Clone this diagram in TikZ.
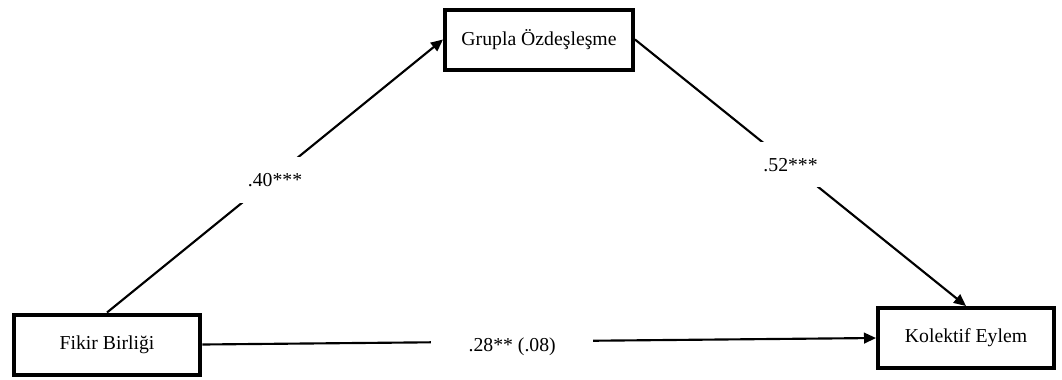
\documentclass[tikz,border=0pt]{standalone}
\usepackage{fontspec}
\setmainfont{Liberation Serif}
\usetikzlibrary{arrows.meta,positioning}

\begin{document}
\begin{tikzpicture}[x=0.75pt, y=-0.75pt,
    varbox/.style={draw, line width=3pt, minimum width=#1, minimum height=45pt,
                   font=\fontsize{14.8}{17}\selectfont},
    effect/.style={line width=1.6pt, -{Triangle[length=9pt,width=8pt]}},
    coef/.style={fill=white, inner xsep=10pt, inner ysep=12pt, font=\fontsize{14.8}{17}\selectfont}]
    \useasboundingbox (0,0) rectangle (1062,379);
    \node[varbox=140pt] (fikir) at (107,344.5) {Fikir Birliği};
    \node[varbox=141pt] (grupla) at (539,39.5) {Grupla Özdeşleşme};
    \node[varbox=132pt] (kolektif) at (966,338) {Kolektif Eylem};
    % yollar
    \draw[effect] (fikir.north) -- node[coef, yshift=-3pt] (a) {.40***} (grupla.west);
    \draw[effect] (grupla.east) -- node[coef, pos=0.47] (b) {.52***} (kolektif.north);
    \draw[effect] (fikir.east) -- node[coef, pos=0.46, yshift=-4pt, inner ysep=4pt, inner xsep=28pt] (c) {.28** (.08)} (kolektif.west);
  \end{tikzpicture}
\end{document}
